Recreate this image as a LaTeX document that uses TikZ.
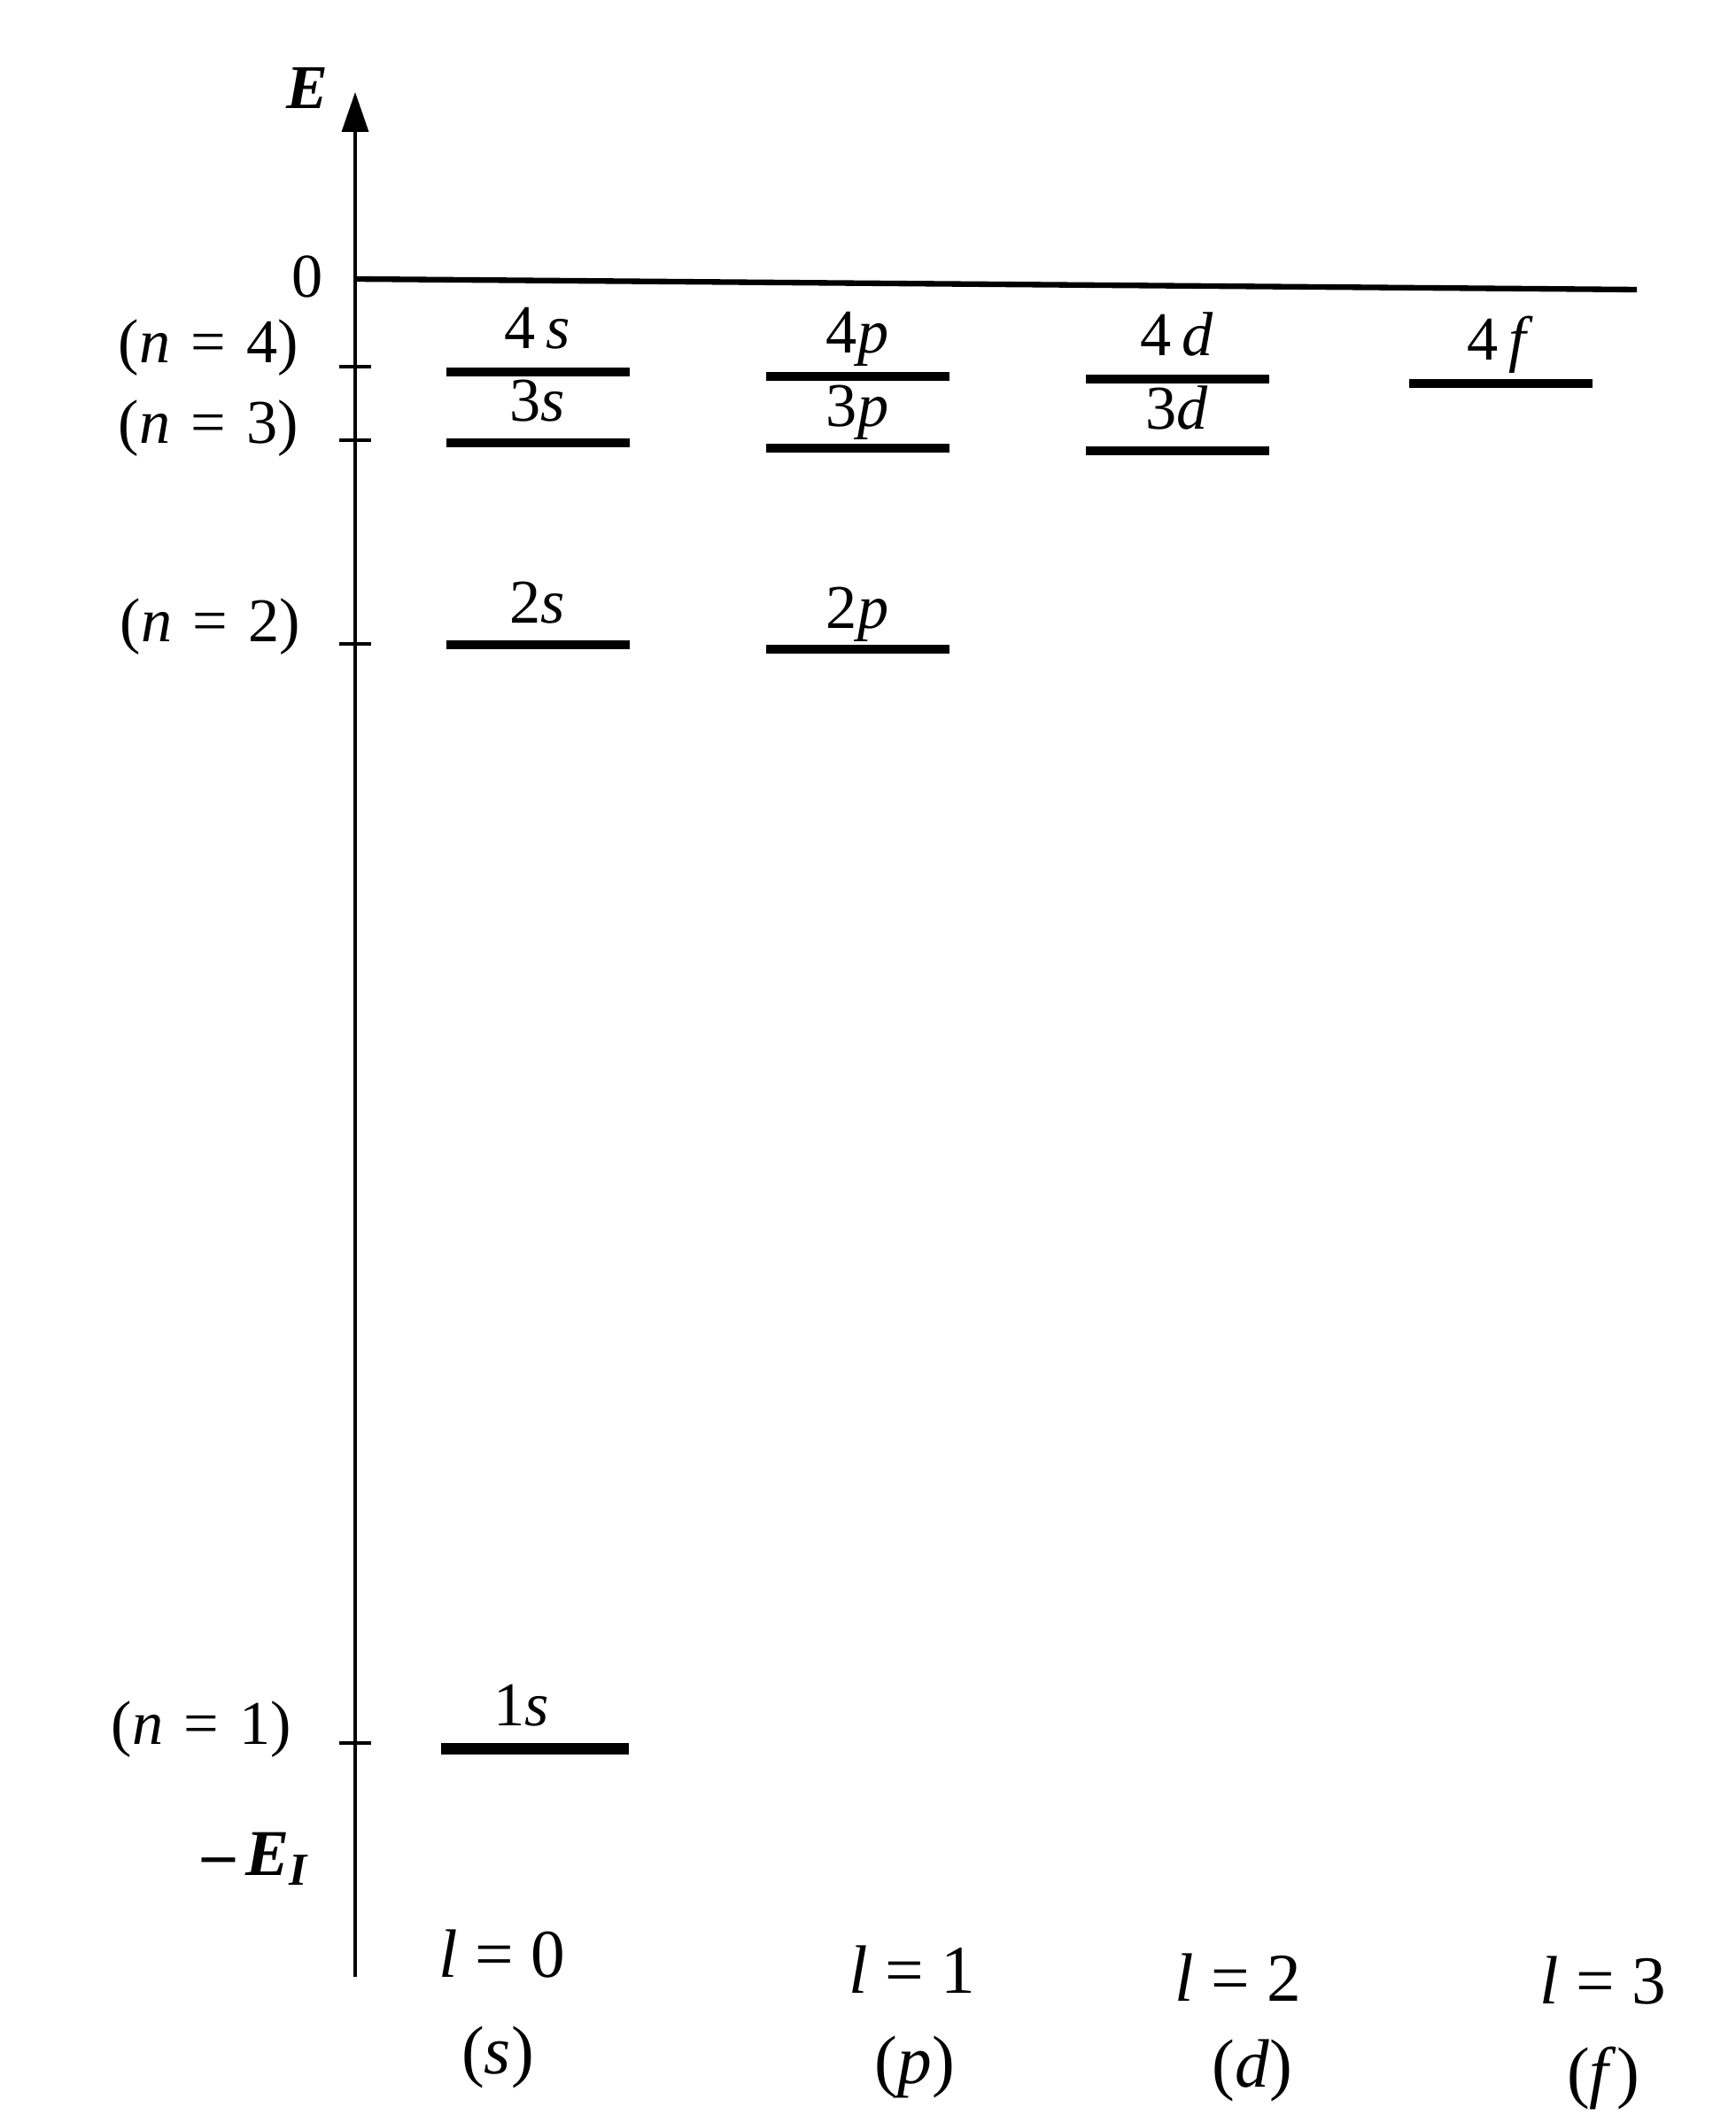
\documentclass[tikz,border=0pt]{standalone}
\usepackage{fontspec}
\setmainfont{Liberation Serif}
\usetikzlibrary{arrows.meta}

\begin{document}
\begin{tikzpicture}[
  lbl/.style={font=\fontsize{20}{24}\selectfont, inner sep=0pt},
  bottomlbl/.style={font=\fontsize{22}{26}\selectfont, inner sep=0pt},
  levelbar/.style={fill=black, draw=none, inner sep=0pt, minimum width=2.07cm, minimum height=0.1cm},
  axisline/.style={line width=1pt, -{Triangle[length=4.5mm, width=3mm]}},
  tick/.style={line width=1.2pt}
]
  \useasboundingbox (0,0) rectangle (19.59,-23.88);

  % energy axis and zero line
  \coordinate (axbot) at (4.01,-22.32);
  \coordinate (axtop) at (4.01,-1.04);
  \draw[axisline] (axbot) -- (axtop);
  \node[lbl, font=\fontsize{20}{24}\selectfont\bfseries\itshape] (E) at (3.47,-0.99) {E};
  \coordinate (zeroL) at (4.01,-3.15);
  \coordinate (zeroR) at (18.48,-3.27);
  \draw[line width=1.8pt] (zeroL) -- (zeroR);
  \node[lbl] (zero) at (3.47,-3.12) {0};

  % ticks for n
  \draw[tick] (3.83,-4.14) -- (4.19,-4.14);
  \draw[tick] (3.83,-4.97) -- (4.19,-4.97);
  \draw[tick] (3.83,-7.27) -- (4.19,-7.27);
  \draw[tick] (3.83,-19.68) -- (4.19,-19.68);
  \node[lbl, anchor=east] (n4) at (3.38,-3.93) {(\textit{n}\,\,=\,\,4)};
  \node[lbl, anchor=east] (n3) at (3.38,-4.84) {(\textit{n}\,\,=\,\,3)};
  \node[lbl, anchor=east] (n2) at (3.40,-7.08) {(\textit{n}\,\,=\,\,2)};
  \node[lbl, anchor=east] (n1) at (3.30,-19.53) {(\textit{n}\,\,=\,\,1)};
  \node[lbl, font=\fontsize{21}{25}\selectfont\bfseries] (EI) at (2.89,-20.99) {\textendash\,\textit{E}\textsubscript{\textit{I}}};

  % s levels
  \node[levelbar] (s4) at (6.07,-4.20) {};
  \node[levelbar] (s3) at (6.07,-5.00) {};
  \node[levelbar] (s2) at (6.07,-7.28) {};
  \node[levelbar, minimum width=2.12cm, minimum height=0.13cm] (s1) at (6.04,-19.74) {};
  \node[lbl, anchor=base] (s4lbl) at ([yshift=0.26cm]s4.center) {4\,\textit{s}};
  \node[lbl, anchor=base] (s3lbl) at ([yshift=0.24cm]s3.center) {3\textit{s}};
  \node[lbl, anchor=base] (s2lbl) at ([yshift=0.24cm]s2.center) {2\textit{s}};
  \node[lbl, anchor=base] (s1lbl) at ([xshift=-0.15cm, yshift=0.26cm]s1.center) {1\textit{s}};

  % p levels
  \node[levelbar] (p4) at (9.68,-4.25) {};
  \node[levelbar] (p3) at (9.68,-5.06) {};
  \node[levelbar] (p2) at (9.68,-7.33) {};
  \node[lbl, anchor=base] (p4lbl) at ([yshift=0.26cm]p4.center) {4\textit{p}};
  \node[lbl, anchor=base] (p3lbl) at ([yshift=0.24cm]p3.center) {3\textit{p}};
  \node[lbl, anchor=base] (p2lbl) at ([yshift=0.24cm]p2.center) {2\textit{p}};

  % d levels
  \node[levelbar] (d4) at (13.29,-4.28) {};
  \node[levelbar] (d3) at (13.29,-5.09) {};
  \node[lbl, anchor=base] (d4lbl) at ([yshift=0.26cm]d4.center) {4\,\textit{d}};
  \node[lbl, anchor=base] (d3lbl) at ([yshift=0.24cm]d3.center) {3\textit{d}};

  % f level
  \node[levelbar] (f4) at (16.94,-4.33) {};
  \node[lbl, anchor=base] (f4lbl) at ([yshift=0.26cm]f4.center) {4\,\textit{f}};

  % quantum number l
  \node[bottomlbl] (l0) at (5.67,-22.06) {\textit{l} = 0};
  \node[bottomlbl] (l1) at (10.30,-22.24) {\textit{l} = 1};
  \node[bottomlbl] (l2) at (13.98,-22.33) {\textit{l} = 2};
  \node[bottomlbl] (l3) at (18.10,-22.36) {\textit{l} = 3};
  \node[bottomlbl] (ls) at (5.62,-23.23) {(\textit{s})};
  \node[bottomlbl] (lp) at (10.33,-23.34) {(\textit{p})};
  \node[bottomlbl] (ld) at (14.14,-23.38) {(\textit{d})};
  \node[bottomlbl] (lf) at (18.10,-23.46) {(\textit{f})};
\end{tikzpicture}
\end{document}
